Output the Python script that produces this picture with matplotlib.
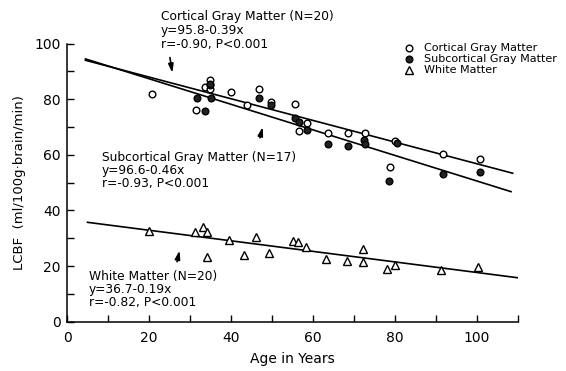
import matplotlib.pyplot as plt
import numpy as np

# Cortical gray matter (open circles)
cort_age = [20.7, 31.5, 33.7, 34.9, 34.9, 34.9, 39.9, 43.9, 46.9, 49.8,
            55.7, 56.7, 58.5, 63.6, 68.5, 72.6, 78.8, 80.1, 91.7, 100.7]
cort_cbf = [82.0, 76.2, 84.5, 86.9, 83.6, 85.0, 82.5, 78.0, 83.6, 79.0,
            78.4, 68.7, 71.4, 68.0, 68.0, 67.7, 55.5, 65.0, 60.2, 58.6]

# Subcortical gray matter (filled circles)
sub_age = [31.7, 33.6, 34.9, 35.0, 46.8, 49.8, 55.7, 56.7, 58.5, 63.6,
           68.5, 72.4, 72.6, 78.6, 80.4, 91.7, 100.7]
sub_cbf = [80.6, 75.9, 85.5, 80.6, 80.3, 77.8, 73.1, 71.7, 69.0, 64.0,
           63.2, 65.4, 63.8, 50.7, 64.2, 53.1, 53.7]

# White matter (open triangles)
wm_age = [20.1, 31.1, 33.2, 34.2, 34.2, 39.4, 43.2, 46.2, 49.3, 55.2,
          56.3, 58.4, 63.2, 68.2, 72.2, 72.2, 78.0, 80.0, 91.3, 100.3]
wm_cbf = [32.7, 32.4, 34.2, 32.4, 23.2, 29.4, 24.0, 30.4, 24.8, 29.1,
          28.8, 26.8, 22.6, 21.9, 26.2, 21.6, 19.0, 20.3, 18.6, 19.8]

# regression fits (intercept, slope) and drawn x range
fits = {
    "cort": (95.8, -0.39, (4.5, 108.7)),
    "sub": (96.6, -0.46, (4.5, 108.3)),
    "wm": (36.7, -0.19, (5.0, 110.0)),
}

fig = plt.figure(figsize=(5.66, 3.71), dpi=100)
ax = fig.add_axes([67 / 566, 49.3 / 371, 451 / 566, 278 / 371])

for a, b, (x0, x1) in fits.values():
    xs = np.array([x0, x1])
    ax.plot(xs, a + b * xs, color="black", lw=1.2, zorder=2)

ax.plot(wm_age, wm_cbf, ls="none", marker="^", ms=6, mfc="white",
        mec="black", mew=1.0, zorder=3, clip_on=False)
ax.plot(cort_age, cort_cbf, ls="none", marker="o", ms=4.8, mfc="white",
        mec="black", mew=1.0, zorder=3)
ax.plot(sub_age, sub_cbf, ls="none", marker="o", ms=4.8, mfc="#222222",
        mec="black", mew=1.0, zorder=4)

ax.set_xlim(0, 110)
ax.set_ylim(0, 100)
ax.set_xticks(np.arange(0, 111, 10))
ax.set_xticklabels([str(v) if v % 20 == 0 else "" for v in range(0, 111, 10)])
ax.set_yticks(np.arange(0, 101, 10))
ax.set_yticklabels([str(v) if v % 20 == 0 else "" for v in range(0, 101, 10)])
ax.tick_params(direction="in", length=5, width=1, labelsize=10)
ax.tick_params(axis="y", pad=4.5)
ax.tick_params(axis="x", pad=7)
for s in ["top", "right"]:
    ax.spines[s].set_visible(False)
for s in ["left", "bottom"]:
    ax.spines[s].set_linewidth(1.1)

ax.set_xlabel("Age in Years", fontsize=10, labelpad=5)
ax.set_ylabel("LCBF  (ml/100g\u00b7brain/min)", fontsize=9.5, labelpad=6)

fs = 8.8
kw = dict(fontsize=fs, va="center", ha="left", clip_on=False)
ax.text(22.9, 109.8, "Cortical Gray Matter (N=20)", **kw)
ax.text(22.9, 104.7, "y=95.8-0.39x", **kw)
ax.text(22.9, 99.6, "r=-0.90, P<0.001", **kw)

ax.text(8.5, 59.2, "Subcortical Gray Matter (N=17)", **kw)
ax.text(8.5, 54.5, "y=96.6-0.46x", **kw)
ax.text(8.5, 49.8, "r=-0.93, P<0.001", **kw)

ax.text(5.4, 16.2, "White Matter (N=20)", **kw)
ax.text(5.4, 11.6, "y=36.7-0.19x", **kw)
ax.text(5.4, 7.0, "r=-0.82, P<0.001", **kw)

# arrows pointing to the fit lines
arr = dict(arrowstyle="-|>,head_length=0.5,head_width=0.15", color="black", lw=1.2)
ax.annotate("", xy=(25.8, 88.5), xytext=(25.0, 96.0), arrowprops=arr)
ax.annotate("", xy=(47.9, 71.0), xytext=(46.9, 65.2), arrowprops=arr)
ax.annotate("", xy=(27.6, 26.6), xytext=(26.7, 20.6), arrowprops=arr)

# legend
leg_labels = ["Cortical Gray Matter", "Subcortical Gray Matter", "White Matter"]
leg_y = [98.4, 94.5, 90.6]
leg_style = [("o", "white", 4.8), ("o", "#222222", 4.8), ("^", "white", 5.5)]
for lab, y, (m, fc, ms) in zip(leg_labels, leg_y, leg_style):
    ax.plot([83.3], [y], marker=m, ms=ms, mfc=fc, mec="black", mew=1.0,
            ls="none", clip_on=False)
    ax.text(87.0, y, lab, fontsize=8, va="center", ha="left", clip_on=False)

fig.savefig("out.png", dpi=100)
